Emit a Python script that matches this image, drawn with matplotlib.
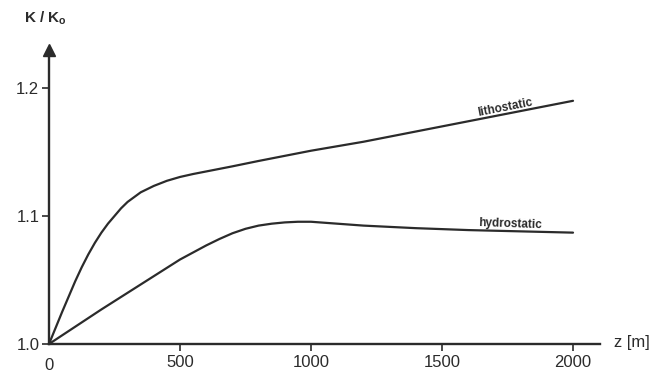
import numpy as np
import matplotlib
matplotlib.use("Agg")
import matplotlib.pyplot as plt

# values
Z_LITHO = [0, 25, 50, 75, 100, 125, 150, 175, 200, 225, 250, 275, 300, 350, 400, 450,
           500, 550, 600, 700, 800, 900, 1000, 1200, 1400, 1600, 1800, 2000]
K_LITHO = [1.000, 1.0125, 1.025, 1.037, 1.049, 1.060, 1.070, 1.079, 1.087, 1.094,
           1.100, 1.106, 1.111, 1.1185, 1.1235, 1.1275, 1.1305, 1.1328, 1.1348, 1.1388,
           1.143, 1.147, 1.151, 1.158, 1.166, 1.174, 1.182, 1.190]

Z_HYDRO = [0, 100, 200, 300, 400, 500, 600, 650, 700, 750, 800, 850, 900, 950,
           1000, 1100, 1200, 1400, 1600, 1800, 2000]
K_HYDRO = [1.000, 1.0135, 1.027, 1.040, 1.053, 1.066, 1.077, 1.082, 1.0865, 1.090,
           1.0925, 1.094, 1.095, 1.0955, 1.0955, 1.094, 1.0925, 1.0905, 1.089,
           1.088, 1.087]

X_TICKS = [500, 1000, 1500, 2000]
Y_TICKS = [1.0, 1.1, 1.2]
Y_TICK_LABELS = ["1.0", "1.1", "1.2"]

INK = "#2b2b2b"
plt.rcParams["font.family"] = ["Liberation Sans", "DejaVu Sans"]

fig = plt.figure(figsize=(6.52, 3.72), dpi=100)
ax = fig.add_axes([49 / 652, 1 - 344 / 372, (600 - 49) / 652, (344 - 50) / 372])

ax.plot(Z_LITHO, K_LITHO, color=INK, lw=1.6, solid_capstyle="round")
ax.plot(Z_HYDRO, K_HYDRO, color=INK, lw=1.6, solid_capstyle="round")

ax.set_xlim(0, 2103)
ax.set_ylim(1.0, 1.0 + 294 / 1280)

for side in ["top", "right"]:
    ax.spines[side].set_visible(False)
for side in ["left", "bottom"]:
    ax.spines[side].set_color(INK)
    ax.spines[side].set_linewidth(1.7)

# arrow heads at the axis ends
ax.plot(1, 0, ">", color=INK, ms=8, transform=ax.get_yaxis_transform(), clip_on=False)
ax.plot(0, 1, "^", color=INK, ms=8, transform=ax.get_xaxis_transform(), clip_on=False)

ax.set_xticks(X_TICKS)
ax.set_xticklabels([str(t) for t in X_TICKS], fontsize=12, color=INK)
ax.tick_params(axis="x", direction="out", length=5, width=1.2, color=INK, pad=3)
ax.set_yticks(Y_TICKS)
ax.set_yticklabels(Y_TICK_LABELS, fontsize=12, color=INK)
ax.tick_params(axis="y", direction="out", length=5, width=1.2, color=INK, pad=2)

fig.text(49 / 652, 1 - 365 / 372, "0", ha="center", va="center", fontsize=12, color=INK)
fig.text(614 / 652, 1 - 342 / 372, "z [m]", ha="left", va="center", fontsize=12, color=INK)
fig.text(24 / 652, 1 - 18 / 372, r"K / K$_\mathregular{o}$", ha="left", va="center",
         fontsize=11, color=INK, fontweight="bold")

ax.text(1740, 1.1845, "lithostatic", rotation=11, ha="center", va="center",
        fontsize=8.5, color=INK, fontweight="bold", rotation_mode="anchor")
ax.text(1760, 1.0935, "hydrostatic", rotation=-2, ha="center", va="center",
        fontsize=8.5, color=INK, fontweight="bold", rotation_mode="anchor")

fig.savefig("out.png", dpi=100)
